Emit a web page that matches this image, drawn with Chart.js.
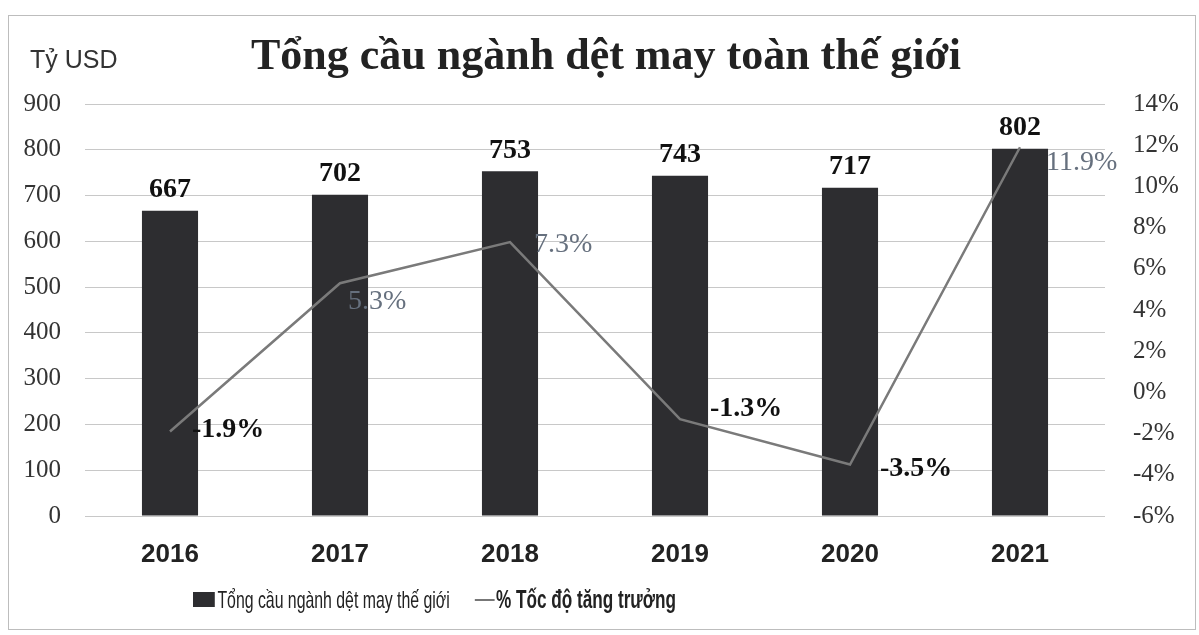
<!DOCTYPE html>
<html>
<head>
<meta charset="utf-8">
<script src="https://cdn.jsdelivr.net/npm/chart.js@4"></script>
<style>
    body { margin: 0; background: #fff; }
    #wrap { position: relative; width: 1199px; height: 635px; overflow: hidden; }
    #frame { position: absolute; left: 8px; top: 15px; width: 1186px; height: 613px; border: 1px solid #bdbdbd; }
    #chart { position: absolute; left: 0; top: 0; }
    #unit { position: absolute; left: 30px; top: 45px; font: 25px "Liberation Sans", sans-serif; color: #333; }
    #title { position: absolute; left: 0; width: 1212px; top: 29px; text-align: center; font: bold 44px "Liberation Serif", serif; color: #222; }
    #legend { position: absolute; left: 193px; top: 584px; display: flex; align-items: center; font: 24px "Liberation Sans", sans-serif; color: #222; white-space: nowrap; transform: scaleX(0.66); transform-origin: left center; }
    #legend .box { width: 33px; height: 15px; background: #2d2d30; margin-right: 4px; }
    #legend .ln { width: 30px; height: 2px; background: #777; margin-left: 38px; margin-right: 2px; }
    #legend b { font-weight: bold; font-size: 26px; }
</style>
</head>
<body>
<div id="wrap">
    <div id="frame"></div>
    <canvas id="chart" width="1199" height="635"></canvas>
    <div id="unit">Tỷ USD</div>
    <div id="title">Tổng cầu ngành dệt may toàn thế giới</div>
    <div id="legend">
        <span class="box"></span><span>Tổng cầu ngành dệt may thế giới</span>
        <span class="ln"></span><b>% Tốc độ tăng trưởng</b>
    </div>
</div>
<script>
    const years = ['2016', '2017', '2018', '2019', '2020', '2021'];
    const demand = [667, 702, 753, 743, 717, 802];
    const growth = [-1.9, 5.3, 7.3, -1.3, -3.5, 11.9];

    // where each growth label sits relative to its point, and how it looks
    const growthLabelStyle = [
        { dx: 22, dy: -2, bold: true, color: '#111' },
        { dx: 8, dy: 18, bold: false, color: '#66707e' },
        { dx: 24, dy: 3, bold: false, color: '#66707e' },
        { dx: 30, dy: -10, bold: true, color: '#111' },
        { dx: 30, dy: 4, bold: true, color: '#111' },
        { dx: 26, dy: 15, bold: false, color: '#66707e' },
    ];

    const valueLabels = {
        id: 'valueLabels',
        afterDatasetsDraw(chart) {
            const ctx = chart.ctx;
            ctx.save();
            const bars = chart.getDatasetMeta(0).data;
            ctx.font = 'bold 28px "Liberation Serif", serif';
            ctx.fillStyle = '#111';
            ctx.textAlign = 'center';
            ctx.textBaseline = 'middle';
            bars.forEach((bar, i) => {
                ctx.fillText(String(demand[i]), bar.x, bar.y - 21);
            });
            const pts = chart.getDatasetMeta(1).data;
            ctx.textAlign = 'left';
            pts.forEach((pt, i) => {
                const s = growthLabelStyle[i];
                ctx.font = (s.bold ? 'bold ' : '') + '28px "Liberation Serif", serif';
                ctx.fillStyle = s.color;
                ctx.fillText(growth[i].toFixed(1) + '%', pt.x + s.dx, pt.y + s.dy);
            });
            ctx.restore();
        }
    };

    const config = {
        data: {
            labels: years,
            datasets: [{
                type: 'bar',
                label: 'Tổng cầu ngành dệt may thế giới',
                data: demand,
                backgroundColor: '#2d2d30',
                yAxisID: 'y',
                barPercentage: 1,
                categoryPercentage: 0.33,
                order: 1,
            }, {
                type: 'line',
                label: '% Tốc độ tăng trưởng',
                data: growth,
                borderColor: '#7a7a7a',
                borderWidth: 2.5,
                pointRadius: 0,
                tension: 0,
                yAxisID: 'y1',
                order: 0,
            }]
        },
        options: {
            responsive: false,
            animation: false,
            layout: {
                padding: { top: 104, bottom: 49, left: 0, right: 0 }
            },
            plugins: {
                legend: { display: false },
                title: { display: false },
                tooltip: { enabled: false },
            },
            scales: {
                x: {
                    grid: { display: false, drawTicks: false },
                    border: { display: false },
                    ticks: {
                        padding: 23,
                        color: '#222',
                        font: { family: '"Liberation Sans", sans-serif', size: 26, weight: 'bold' },
                    },
                    afterFit: (scale) => { scale.height = 70; },
                },
                y: {
                    position: 'left',
                    min: 0,
                    max: 900,
                    ticks: {
                        stepSize: 100,
                        padding: 24,
                        color: '#333',
                        font: { family: '"Liberation Serif", serif', size: 25 },
                    },
                    grid: { color: '#c8c8c8', lineWidth: 1, drawTicks: false },
                    border: { display: false },
                    afterFit: (scale) => { scale.width = 85; },
                },
                y1: {
                    position: 'right',
                    min: -6,
                    max: 14,
                    ticks: {
                        stepSize: 2,
                        padding: 28,
                        color: '#333',
                        font: { family: '"Liberation Serif", serif', size: 25 },
                        callback: (v) => v + '%',
                    },
                    grid: { display: false, drawTicks: false },
                    border: { display: false },
                    afterFit: (scale) => { scale.width = 94; },
                }
            }
        },
        plugins: [valueLabels]
    };

    new Chart(document.getElementById('chart'), config);
</script>
</body>
</html>
